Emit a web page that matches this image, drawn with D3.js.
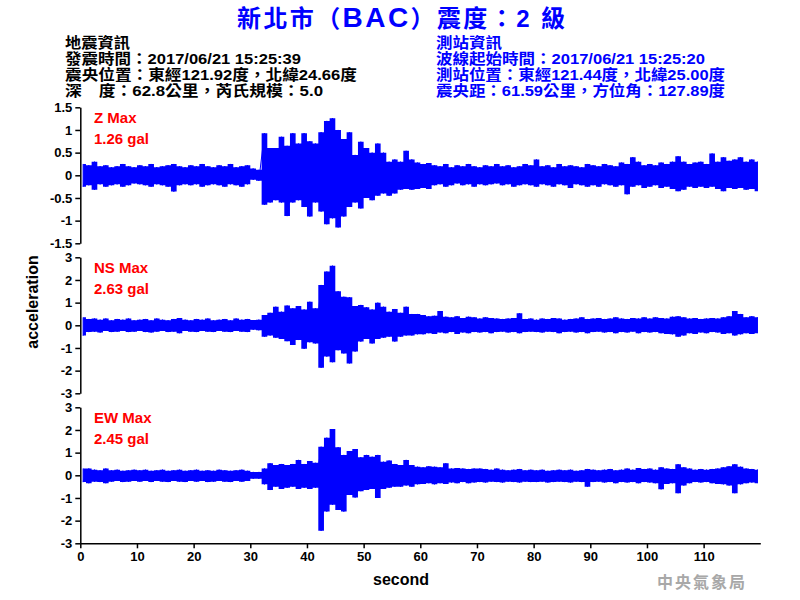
<!DOCTYPE html>
<html>
<head>
<meta charset="utf-8">
<script src="https://cdn.jsdelivr.net/npm/d3@7"></script>
<style>
  body { margin: 0; background: #fff; }
  svg { display: block; }
</style>
</head>
<body>
<svg width="800" height="600"></svg>
<script>
// per-second peak envelopes (gal), bins 0..119 s
const zMax = [0.25,0.22,0.3,0.2,0.22,0.18,0.2,0.25,0.2,0.18, 0.22,0.2,0.25,0.18,0.2,0.22,0.25,0.2,0.18,0.22,
  0.2,0.25,0.2,0.18,0.22,0.2,0.25,0.18,0.2,0.22, 0.15,0.12,0.93,0.6,0.6,0.85,0.65,0.93,0.7,0.93,
  0.75,0.7,0.95,1.2,1.26,1.0,0.8,0.95,0.45,0.74, 0.6,0.5,0.7,0.5,0.3,0.35,0.3,0.54,0.35,0.28,
  0.25,0.27,0.22,0.2,0.25,0.18,0.22,0.2,0.25,0.2, 0.18,0.22,0.2,0.25,0.2,0.22,0.18,0.2,0.25,0.22,
  0.35,0.2,0.22,0.18,0.25,0.2,0.22,0.2,0.18,0.25, 0.22,0.2,0.25,0.22,0.2,0.28,0.25,0.4,0.3,0.22,
  0.25,0.22,0.28,0.25,0.3,0.42,0.3,0.25,0.28,0.3, 0.25,0.48,0.3,0.4,0.32,0.35,0.4,0.3,0.35,0.3]
const zMin = [-0.25,-0.22,-0.32,-0.2,-0.25,-0.22,-0.2,-0.25,-0.22,-0.18, -0.2,-0.22,-0.25,-0.2,-0.22,-0.25,-0.36,-0.22,-0.2,-0.22,
  -0.2,-0.25,-0.22,-0.2,-0.22,-0.25,-0.2,-0.22,-0.25,-0.2, -0.1,-0.12,-0.65,-0.6,-0.55,-0.6,-0.9,-0.6,-0.55,-0.7,
  -0.91,-0.6,-0.8,-1.08,-0.95,-1.15,-0.91,-0.7,-0.6,-0.73, -0.5,-0.55,-0.45,-0.4,-0.45,-0.4,-0.32,-0.3,-0.32,-0.3,
  -0.28,-0.3,-0.22,-0.2,-0.25,-0.22,-0.18,-0.22,-0.2,-0.25, -0.2,-0.22,-0.2,-0.18,-0.22,-0.2,-0.25,-0.22,-0.2,-0.22,
  -0.25,-0.2,-0.22,-0.25,-0.2,-0.22,-0.28,-0.2,-0.22,-0.25, -0.22,-0.25,-0.2,-0.22,-0.25,-0.22,-0.42,-0.25,-0.22,-0.28,
  -0.25,-0.22,-0.28,-0.25,-0.3,-0.35,-0.32,-0.25,-0.28,-0.25, -0.28,-0.25,-0.3,-0.35,-0.28,-0.3,-0.28,-0.32,-0.3,-0.35]

const nsMax = [0.35,0.28,0.3,0.25,0.3,0.22,0.28,0.25,0.3,0.22, 0.25,0.28,0.22,0.3,0.25,0.22,0.28,0.32,0.25,0.22,
  0.28,0.25,0.3,0.22,0.25,0.28,0.22,0.3,0.25,0.28, 0.23,0.25,0.45,0.55,0.82,0.6,0.87,0.75,0.85,0.7,
  1.04,0.75,1.78,2.37,2.63,1.5,1.26,1.24,0.85,0.9, 0.8,0.7,1.0,0.82,0.6,0.72,0.55,0.82,0.5,0.5,
  0.45,0.4,0.42,0.63,0.38,0.35,0.4,0.32,0.38,0.35, 0.3,0.35,0.32,0.3,0.28,0.3,0.32,0.53,0.28,0.3,
  0.25,0.3,0.28,0.32,0.3,0.25,0.28,0.3,0.35,0.28, 0.3,0.32,0.28,0.3,0.35,0.3,0.28,0.32,0.3,0.35,
  0.3,0.35,0.32,0.3,0.38,0.4,0.35,0.3,0.32,0.28, 0.3,0.32,0.3,0.35,0.4,0.63,0.5,0.35,0.4,0.35]
const nsMin = [-0.45,-0.3,-0.28,-0.32,-0.25,-0.3,-0.28,-0.25,-0.3,-0.28, -0.25,-0.3,-0.32,-0.28,-0.25,-0.3,-0.28,-0.35,-0.25,-0.28,
  -0.3,-0.25,-0.28,-0.3,-0.25,-0.28,-0.3,-0.25,-0.28,-0.3, -0.2,-0.22,-0.5,-0.45,-0.55,-0.6,-0.7,-0.87,-0.65,-1.04,
  -0.75,-0.8,-1.87,-1.38,-1.63,-1.1,-1.24,-1.68,-1.16,-0.72, -0.6,-0.8,-0.6,-0.55,-0.5,-0.72,-0.5,-0.45,-0.45,-0.4,
  -0.4,-0.35,-0.38,-0.32,-0.35,-0.3,-0.38,-0.32,-0.35,-0.3, -0.32,-0.3,-0.35,-0.3,-0.28,-0.32,-0.3,-0.35,-0.3,-0.28,
  -0.3,-0.32,-0.28,-0.3,-0.35,-0.3,-0.28,-0.32,-0.3,-0.35, -0.3,-0.28,-0.32,-0.3,-0.35,-0.3,-0.32,-0.28,-0.35,-0.3,
  -0.32,-0.3,-0.35,-0.38,-0.4,-0.5,-0.45,-0.35,-0.38,-0.32, -0.35,-0.3,-0.32,-0.38,-0.35,-0.45,-0.4,-0.35,-0.38,-0.35]

const ewMax = [0.3,0.3,0.25,0.22,0.3,0.22,0.25,0.2,0.22,0.25, 0.22,0.25,0.2,0.22,0.25,0.2,0.22,0.25,0.2,0.22,
  0.25,0.2,0.22,0.2,0.25,0.22,0.2,0.22,0.25,0.2, 0.15,0.15,0.3,0.53,0.45,0.5,0.45,0.5,0.68,0.5,
  0.63,0.55,1.26,1.66,2.04,1.24,0.9,1.07,1.16,0.8, 0.9,0.82,0.9,0.6,0.65,0.5,0.45,0.68,0.45,0.38,
  0.35,0.4,0.38,0.35,0.53,0.3,0.32,0.3,0.28,0.3, 0.3,0.28,0.25,0.3,0.25,0.22,0.25,0.28,0.22,0.25,
  0.22,0.25,0.2,0.22,0.25,0.22,0.25,0.2,0.22,0.28, 0.25,0.22,0.25,0.28,0.22,0.25,0.3,0.25,0.32,0.28,
  0.3,0.25,0.35,0.3,0.28,0.49,0.35,0.3,0.25,0.28, 0.25,0.28,0.3,0.35,0.4,0.49,0.38,0.3,0.28,0.25]
const ewMin = [-0.3,-0.35,-0.28,-0.3,-0.35,-0.28,-0.25,-0.3,-0.28,-0.25, -0.28,-0.25,-0.3,-0.25,-0.28,-0.3,-0.25,-0.28,-0.3,-0.25,
  -0.28,-0.25,-0.3,-0.28,-0.25,-0.28,-0.3,-0.25,-0.28,-0.25, -0.15,-0.15,-0.4,-0.65,-0.5,-0.6,-0.55,-0.5,-0.6,-0.55,
  -0.6,-0.55,-2.45,-1.6,-1.3,-1.53,-1.6,-0.87,-0.98,-0.7, -0.65,-0.6,-1.0,-0.6,-0.55,-0.5,-0.5,-0.45,-0.5,-0.4,
  -0.38,-0.35,-0.4,-0.35,-0.38,-0.32,-0.35,-0.3,-0.35,-0.32, -0.3,-0.32,-0.28,-0.3,-0.32,-0.28,-0.3,-0.32,-0.28,-0.3,
  -0.3,-0.28,-0.32,-0.3,-0.28,-0.3,-0.32,-0.28,-0.3,-0.5, -0.3,-0.28,-0.32,-0.3,-0.35,-0.3,-0.32,-0.3,-0.35,-0.3,
  -0.32,-0.35,-0.62,-0.38,-0.35,-0.79,-0.45,-0.35,-0.3,-0.32, -0.3,-0.35,-0.38,-0.4,-0.45,-0.79,-0.4,-0.35,-0.32,-0.35]

const panelNames = ["Z Max", "NS Max", "EW Max"]
const panelPeaks = ["1.26 gal", "2.63 gal", "2.45 gal"]
const panelTicks = [[-1.5, -1, -0.5, 0, 0.5, 1, 1.5], [-3, -2, -1, 0, 1, 2, 3], [-3, -2, -1, 0, 1, 2, 3]]
const xTicks = [0, 10, 20, 30, 40, 50, 60, 70, 80, 90, 100, 110]

const titleParts = ["新北市（", "BAC", "）震度：2 級"]
const quakeInfo = ["地震資訊", "發震時間：2017/06/21 15:25:39", "震央位置：東經121.92度，北緯24.66度", "深　度：62.8公里，芮氏規模：5.0"]
const stationInfo = ["測站資訊", "波線起始時間：2017/06/21 15:25:20", "測站位置：東經121.44度，北緯25.00度", "震央距：61.59公里，方位角：127.89度"]

function drawChart() {
    const svg = d3.select("svg")
    const font = "'Liberation Sans', Arial, 'Noto Sans CJK TC', sans-serif"
    const left = 80.3, right = 760.3
    const panelTop = [107.3, 257.3, 407.3]
    const panelH = 136

    const x = d3.scaleLinear().domain([0, 120]).range([left, right])

    // title
    const title = svg.append("text")
        .attr("x", 237).attr("y", 27)
        .attr("textLength", 328).attr("lengthAdjust", "spacing")
        .attr("font-family", font).attr("font-size", 24).attr("font-weight", "bold")
        .attr("fill", "#0000ff")
    title.selectAll("tspan").data(titleParts).enter().append("tspan")
        .attr("font-size", (d, i) => i == 1 ? 28 : 24)
        .text(d => d)

    // header blocks
    const rows = [48, 64, 80, 96]
    const quakeLen = [65, 236, 292, 258]
    const stationLen = [66, 269, 289, 289]
    svg.selectAll(".quake").data(quakeInfo).enter().append("text")
        .attr("x", 65).attr("y", (d, i) => rows[i])
        .attr("textLength", (d, i) => quakeLen[i]).attr("lengthAdjust", "spacingAndGlyphs")
        .attr("font-family", font).attr("font-size", 15).attr("font-weight", "bold")
        .attr("fill", "black")
        .text(d => d)
    svg.selectAll(".station").data(stationInfo).enter().append("text")
        .attr("x", 436).attr("y", (d, i) => rows[i])
        .attr("textLength", (d, i) => stationLen[i]).attr("lengthAdjust", "spacingAndGlyphs")
        .attr("font-family", font).attr("font-size", 15).attr("font-weight", "bold")
        .attr("fill", "#0000ff")
        .text(d => d)

    const envelopes = [[zMax, zMin], [nsMax, nsMin], [ewMax, ewMin]]

    envelopes.forEach(([hi, lo], p) => {
        const ticks = panelTicks[p]
        const y = d3.scaleLinear()
            .domain([ticks[0], ticks[ticks.length - 1]])
            .range([panelTop[p] + panelH, panelTop[p]])

        // band between the upper and lower peak of every second
        const area = d3.area()
            .curve(d3.curveStep)
            .x((d, i) => x(i + 0.5))
            .y0((d, i) => y(lo[i]))
            .y1(d => y(d))
        svg.append("path")
            .datum(hi)
            .attr("fill", "#0000ff")
            .attr("d", area)

        // thin trace joining the peaks for a spikier outline
        const pts = []
        hi.forEach((v, i) => {
            pts.push([i + 0.5, v])
            pts.push([i + 0.5, lo[i]])
        })
        svg.append("path")
            .datum(pts)
            .attr("fill", "none")
            .attr("stroke", "#0000ff")
            .attr("stroke-width", 1)
            .attr("d", d3.line().x(d => x(d[0])).y(d => y(d[1])))

        const yAxis = svg.append("g")
            .attr("transform", `translate(${left},0)`)
            .call(d3.axisLeft(y).tickValues(ticks).tickSize(5).tickSizeOuter(0).tickFormat(d => String(d)))
        yAxis.selectAll("text")
            .attr("font-family", font).attr("font-size", 13).attr("font-weight", "bold").attr("fill", "black")
        yAxis.selectAll("line,path").attr("stroke", "black").attr("stroke-width", 1.5)

        svg.append("text")
            .attr("x", 94).attr("y", panelTop[p] + 15.7)
            .attr("font-family", font).attr("font-size", 15).attr("font-weight", "bold")
            .attr("fill", "#ff0000")
            .text(panelNames[p])
        svg.append("text")
            .attr("x", 94).attr("y", panelTop[p] + 36.7)
            .attr("font-family", font).attr("font-size", 15).attr("font-weight", "bold")
            .attr("fill", "#ff0000")
            .text(panelPeaks[p])
    })

    const xAxis = svg.append("g")
        .attr("transform", `translate(0,${panelTop[2] + panelH})`)
        .call(d3.axisBottom(x).tickValues(xTicks).tickSize(5).tickSizeOuter(0).tickFormat(d => String(d)))
    xAxis.selectAll("text")
        .attr("font-family", font).attr("font-size", 13).attr("font-weight", "bold").attr("fill", "black")
    xAxis.selectAll("line,path").attr("stroke", "black").attr("stroke-width", 1.5)

    svg.append("text")
        .attr("x", 401).attr("y", 585)
        .attr("text-anchor", "middle")
        .attr("font-family", font).attr("font-size", 16).attr("font-weight", "bold")
        .text("second")

    svg.append("text")
        .attr("transform", "translate(38,302) rotate(-90)")
        .attr("text-anchor", "middle")
        .attr("font-family", font).attr("font-size", 16).attr("font-weight", "bold")
        .text("acceleration")

    svg.append("text")
        .attr("x", 657).attr("y", 588)
        .attr("textLength", 88).attr("lengthAdjust", "spacing")
        .attr("font-family", "'Noto Sans CJK TC', sans-serif").attr("font-size", 16).attr("font-weight", "bold")
        .attr("fill", "#a8a8a8")
        .text("中央氣象局")
}
drawChart()
</script>
</body>
</html>
